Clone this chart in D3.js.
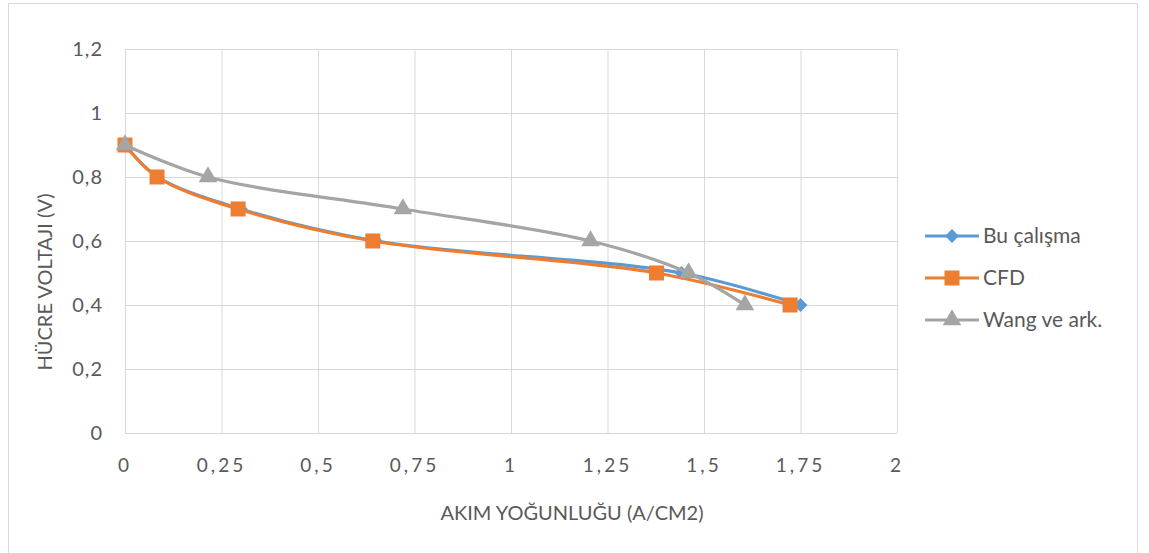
<!DOCTYPE html>
<html>
<head>
<meta charset="utf-8">
<script src="https://cdn.jsdelivr.net/npm/d3@7"></script>
<style>
  body { margin: 0; background: #fff; }
  text { font-family: Lato, "Open Sans", sans-serif; fill: #595959; }
</style>
</head>
<body>
<div id="chart"></div>
<script>
// data
const seriesNames = ["Bu çalışma", "CFD", "Wang ve ark."];
const buX = [0, 0.085, 0.30, 0.65, 1.442, 1.75];
const buY = [0.9, 0.8, 0.7, 0.6, 0.5, 0.4];
const cfdX = [0, 0.083, 0.293, 0.642, 1.377, 1.723];
const cfdY = [0.9, 0.8, 0.7, 0.6, 0.5, 0.4];
const wangX = [0, 0.215, 0.72, 1.206, 1.46, 1.606];
const wangY = [0.9, 0.8, 0.7, 0.6, 0.5, 0.4];
const xTicks = [0, 0.25, 0.5, 0.75, 1, 1.25, 1.5, 1.75, 2];
const yTicks = [0, 0.2, 0.4, 0.6, 0.8, 1, 1.2];

const colors = ["#5B9BD5", "#ED7D31", "#A5A5A5"];
// diamond = square turned 45deg (Excel style, not the tall d3 diamond)
const symbols = [d3.symbolSquare, d3.symbolSquare, d3.symbolTriangle];
const symRot = [45, 0, 0];
const symSizes = [95, 225, 150];

const W = 1149, H = 553;
const margin = { top: 49, right: 252, bottom: 120, left: 125 },
  width = W - margin.left - margin.right,
  height = H - margin.top - margin.bottom;

const fmt = v => String(v).replace(".", ",");

const svg = d3.select("#chart")
  .append("svg")
  .attr("width", W)
  .attr("height", H);

// chart frame
svg.append("rect")
  .attr("x", 8.5).attr("y", 3.5)
  .attr("width", 1129).attr("height", 560)
  .attr("fill", "none")
  .attr("stroke", "#d9d9d9");

const g = svg.append("g")
  .attr("transform", `translate(${margin.left}, ${margin.top})`);

const x = d3.scaleLinear().domain([0, 2]).range([0, width]);
const y = d3.scaleLinear().domain([0, 1.2]).range([height, 0]);

// gridlines
g.append("g")
  .call(d3.axisLeft(y).tickValues(yTicks).tickSize(-width).tickFormat(""))
  .call(a => a.select(".domain").remove())
  .selectAll("line").attr("stroke", "#d9d9d9");
g.append("g")
  .attr("transform", `translate(0, ${height})`)
  .call(d3.axisBottom(x).tickValues(xTicks).tickSize(-height).tickFormat(""))
  .call(a => a.select(".domain").remove())
  .selectAll("line").attr("stroke", "#d9d9d9");

// tick labels
g.selectAll(".ylab")
  .data(yTicks)
  .join("text")
  .attr("class", "ylab")
  .attr("x", -22)
  .attr("y", d => y(d))
  .attr("dy", "0.35em")
  .attr("text-anchor", "end")
  .style("font-size", "20px")
  .style("letter-spacing", "1px")
  .text(fmt);

g.selectAll(".xlab")
  .data(xTicks)
  .join("text")
  .attr("class", "xlab")
  .attr("x", d => x(d))
  .attr("y", height + 32)
  .attr("dy", "0.35em")
  .attr("text-anchor", "middle")
  .style("font-size", "19px")
  .style("letter-spacing", "3px")
  .text(fmt);

// axis titles
svg.append("text")
  .attr("x", 572)
  .attr("y", 513)
  .attr("dy", "0.35em")
  .attr("text-anchor", "middle")
  .style("font-size", "20px")
  .text("AKIM YOĞUNLUĞU (A/CM2)");

svg.append("text")
  .attr("transform", "translate(45, 282) rotate(-90)")
  .attr("dy", "0.35em")
  .attr("text-anchor", "middle")
  .style("font-size", "20px")
  .text("HÜCRE VOLTAJI (V)");

// series
const series = [
  buX.map((v, i) => ({ x: v, y: buY[i] })),
  cfdX.map((v, i) => ({ x: v, y: cfdY[i] })),
  wangX.map((v, i) => ({ x: v, y: wangY[i] }))
];

const line = d3.line()
  .x(d => x(d.x))
  .y(d => y(d.y))
  .curve(d3.curveCatmullRom.alpha(0.5));

series.forEach((s, k) => {
  g.append("path")
    .datum(s)
    .attr("fill", "none")
    .attr("stroke", colors[k])
    .attr("stroke-width", 3.2)
    .attr("stroke-linejoin", "round")
    .attr("d", line);
  g.selectAll(".m" + k)
    .data(s)
    .join("path")
    .attr("class", "m" + k)
    .attr("transform", d => `translate(${x(d.x)}, ${y(d.y)}) rotate(${symRot[k]})`)
    .attr("d", d3.symbol().type(symbols[k]).size(symSizes[k]))
    .attr("fill", colors[k]);
});

// legend
const legend = svg.append("g").attr("transform", "translate(925, 236)");
seriesNames.forEach((name, k) => {
  const row = legend.append("g").attr("transform", `translate(0, ${k * 42})`);
  row.append("line")
    .attr("x1", 0).attr("x2", 54)
    .attr("stroke", colors[k])
    .attr("stroke-width", 3.2);
  row.append("path")
    .attr("transform", `translate(27, 0) rotate(${symRot[k]})`)
    .attr("d", d3.symbol().type(symbols[k]).size(symSizes[k]))
    .attr("fill", colors[k]);
  row.append("text")
    .attr("x", 58)
    .attr("dy", "0.35em")
    .style("font-size", "21px")
    .text(name);
});
</script>
</body>
</html>
